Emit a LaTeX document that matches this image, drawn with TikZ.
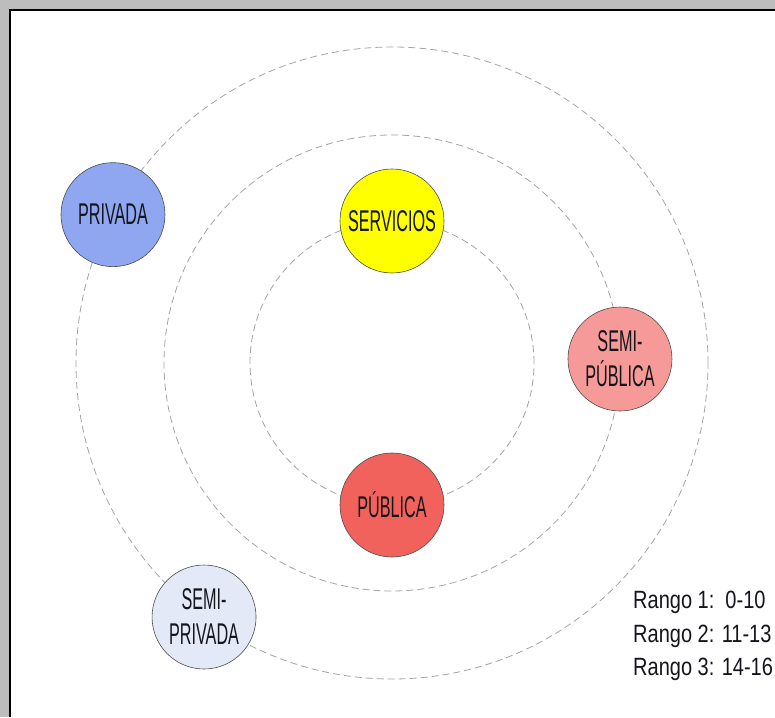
\documentclass[tikz,border=0pt]{standalone}
\usepackage{xcolor}
\usepackage{fontspec}
\usepackage{tikz}
\usetikzlibrary{positioning}
\newfontfamily\zonefont{Liberation Sans}[FakeStretch=0.54]
\newfontfamily\rangofont{Liberation Sans}[FakeStretch=0.8]
\definecolor{privada}{HTML}{8FA6F0}
\definecolor{servicios}{HTML}{FFFF00}
\definecolor{semipublica}{HTML}{F59A98}
\definecolor{publica}{HTML}{F2625C}
\definecolor{semiprivada}{HTML}{E4E9F8}
\definecolor{ring}{HTML}{A3A3A3}
\definecolor{marco}{HTML}{BDBDBD}
\definecolor{ink}{HTML}{15151C}

\tikzset{
  zone/.style={circle, draw=black!70, line width=0.6pt, minimum size=104pt,
               inner sep=0pt, align=center, text=ink,
               font=\zonefont\fontsize{30}{35}\selectfont},
  orbit/.style={draw=ring, line width=0.8pt, dash pattern=on 7pt off 4pt},
}

\begin{document}
\begin{tikzpicture}[x=1pt, y=1pt]
  \useasboundingbox (0,0) rectangle (775,717);
  % window frame, top and left only
  \fill[marco] (0,0) rectangle (10,717);
  \fill[marco] (0,707) rectangle (775,717);
  \draw[black, line width=2pt] (10,0) -- (10,707) -- (775,707);

  \coordinate (centro) at (392,354);

  % rangos 1, 2, 3
  \draw[orbit] (centro) circle (142pt);
  \draw[orbit] (centro) circle (228pt);
  \draw[orbit] (centro) circle (316pt);

  \node[zone, fill=servicios] (servicios) at ([shift={(90:142)}]centro) {SERVICIOS};
  \node[zone, fill=publica] (publica) at ([shift={(270:142)}]centro) {PÚBLICA};
  \node[zone, fill=semipublica] (semipublica) at ([shift={(1:228)}]centro) {SEMI-\\PÚBLICA};
  \node[zone, fill=privada] (privada) at ([shift={(152:316)}]centro) {PRIVADA};
  \node[zone, fill=semiprivada] (semiprivada) at ([shift={(233.5:316)}]centro) {SEMI-\\PRIVADA};

  \node[anchor=north west, inner sep=0pt, align=left, text=ink,
        font=\rangofont\fontsize{25}{33.5}\selectfont] (rangos) at (633,126)
    {Rango 1:\ \ 0-10\\ Rango 2: 11-13\\ Rango 3: 14-16};
\end{tikzpicture}
\end{document}
